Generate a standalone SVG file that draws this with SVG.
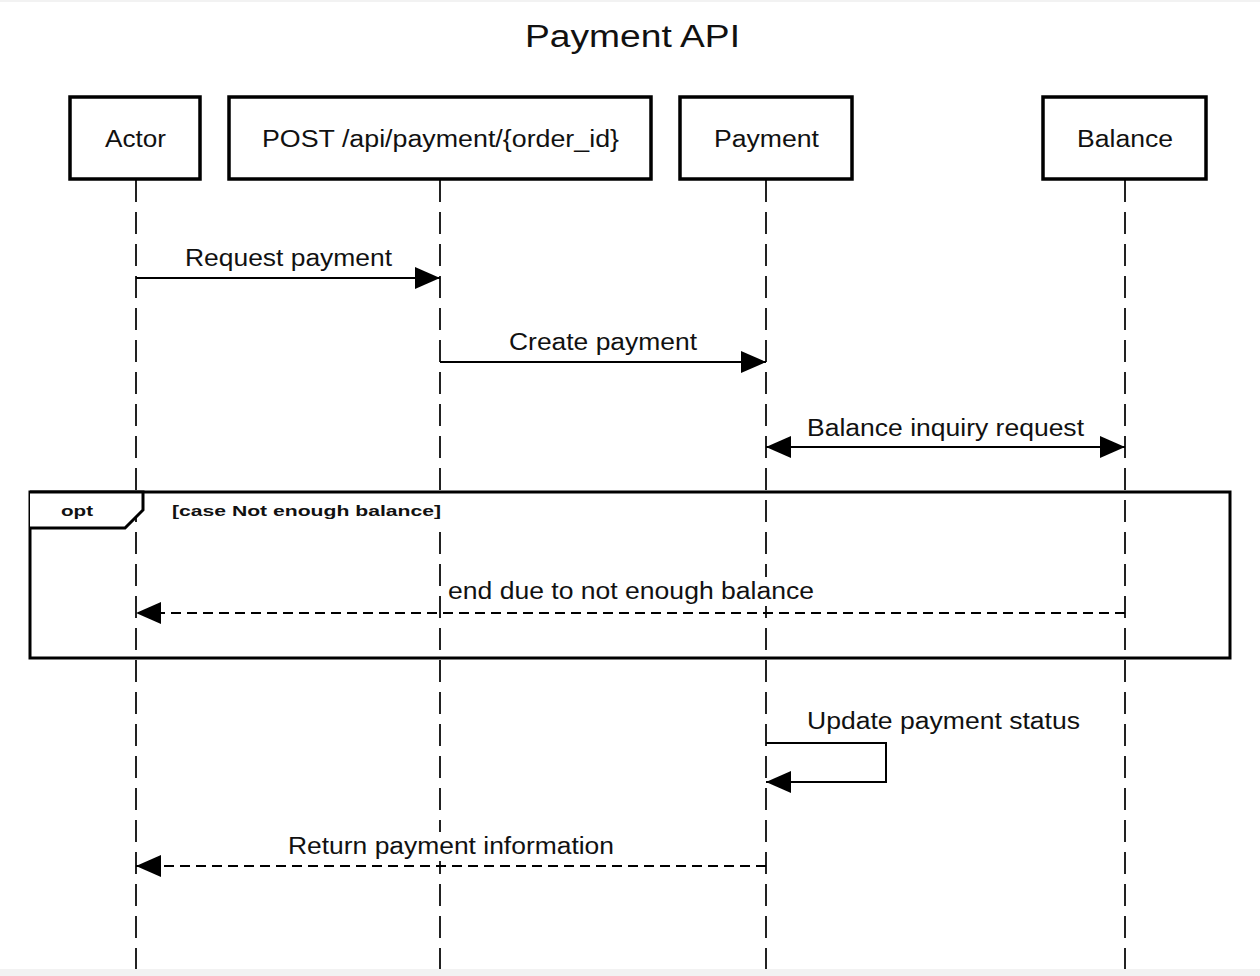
<svg xmlns="http://www.w3.org/2000/svg" width="1260" height="976" viewBox="0 0 1260 976">
<style>
  .t { font-family: "Liberation Sans", Arial, sans-serif; font-size: 23px; fill: #111; }
  .b { font-family: "Liberation Sans", Arial, sans-serif; font-weight: bold; font-size: 15px; fill: #111; }
  .box { fill: #fff; stroke: #000; stroke-width: 3.5; }
  .life { stroke: #222; stroke-width: 2; stroke-dasharray: 22 10; fill: none; }
  .msg { stroke: #000; stroke-width: 2; fill: none; }
  .ret { stroke: #000; stroke-width: 2; fill: none; stroke-dasharray: 10 6; }
  .frame { fill: none; stroke: #000; stroke-width: 3; }
  .bg { fill: #fff; }
</style>
<defs>
  <marker id="ah" markerUnits="userSpaceOnUse" markerWidth="26" markerHeight="24" refX="25" refY="11" orient="auto-start-reverse">
    <path d="M0,0 L25,11 L0,22 z" fill="#000"/>
  </marker>
</defs>
<rect x="0" y="0" width="1260" height="976" fill="#fff"/>
<rect x="0" y="0" width="1260" height="2" fill="#f2f2f2"/>
<rect x="0" y="969" width="1260" height="7" fill="#f2f2f2"/>

<text class="t" x="525" y="47" style="font-size:31px" textLength="215" lengthAdjust="spacingAndGlyphs">Payment API</text>

<g id="lifelines">
  <line class="life" x1="136" y1="180" x2="136" y2="969"/>
  <line class="life" x1="440" y1="180" x2="440" y2="969"/>
  <line class="life" x1="766" y1="180" x2="766" y2="969"/>
  <line class="life" x1="1125" y1="180" x2="1125" y2="969"/>
</g>

<g id="actor">
  <rect class="box" x="70" y="97" width="130" height="82"/>
  <text class="t" x="105" y="147" textLength="61" lengthAdjust="spacingAndGlyphs">Actor</text>
</g>
<g id="post">
  <rect class="box" x="229" y="97" width="422" height="82"/>
  <text class="t" x="262" y="147" textLength="357" lengthAdjust="spacingAndGlyphs">POST /api/payment/{order_id}</text>
</g>
<g id="payment">
  <rect class="box" x="680" y="97" width="172" height="82"/>
  <text class="t" x="714" y="147" textLength="105" lengthAdjust="spacingAndGlyphs">Payment</text>
</g>
<g id="balance">
  <rect class="box" x="1043" y="97" width="163" height="82"/>
  <text class="t" x="1077" y="147" textLength="96" lengthAdjust="spacingAndGlyphs">Balance</text>
</g>

<g id="opt-frame">
  <rect class="frame" x="30" y="492" width="1200" height="166"/>
  <path class="frame" d="M30,492 L143,492 L143,510 L125,528 L30,528" stroke-width="2.5" style="fill:#fff"/>
  <text class="b" x="61" y="516" textLength="32" lengthAdjust="spacingAndGlyphs">opt</text>
  <rect class="bg" x="170" y="500" width="272" height="22"/>
  <text class="b" x="172" y="516" textLength="269" lengthAdjust="spacingAndGlyphs">[case Not enough balance]</text>
</g>

<g id="connectors">
  <line class="msg" x1="136" y1="278" x2="440" y2="278" marker-end="url(#ah)"/>
  <text class="t" x="185" y="266" textLength="207" lengthAdjust="spacingAndGlyphs">Request payment</text>

  <line class="msg" x1="440" y1="362" x2="766" y2="362" marker-end="url(#ah)"/>
  <text class="t" x="509" y="350" textLength="188" lengthAdjust="spacingAndGlyphs">Create payment</text>

  <line class="msg" x1="766" y1="447" x2="1125" y2="447" marker-start="url(#ah)" marker-end="url(#ah)"/>
  <text class="t" x="807" y="436" textLength="277" lengthAdjust="spacingAndGlyphs">Balance inquiry request</text>

  <line class="ret" x1="1125" y1="613" x2="136" y2="613" marker-end="url(#ah)"/>
  <rect class="bg" x="446" y="577" width="370" height="29"/>
  <text class="t" x="448" y="599" textLength="366" lengthAdjust="spacingAndGlyphs">end due to not enough balance</text>

  <polyline class="msg" points="766,743 886,743 886,782 766,782" marker-end="url(#ah)"/>
  <text class="t" x="807" y="729" textLength="273" lengthAdjust="spacingAndGlyphs">Update payment status</text>

  <line class="ret" x1="766" y1="866" x2="136" y2="866" marker-end="url(#ah)"/>
  <rect class="bg" x="286" y="832" width="330" height="29"/>
  <text class="t" x="288" y="854" textLength="326" lengthAdjust="spacingAndGlyphs">Return payment information</text>
</g>
</svg>
